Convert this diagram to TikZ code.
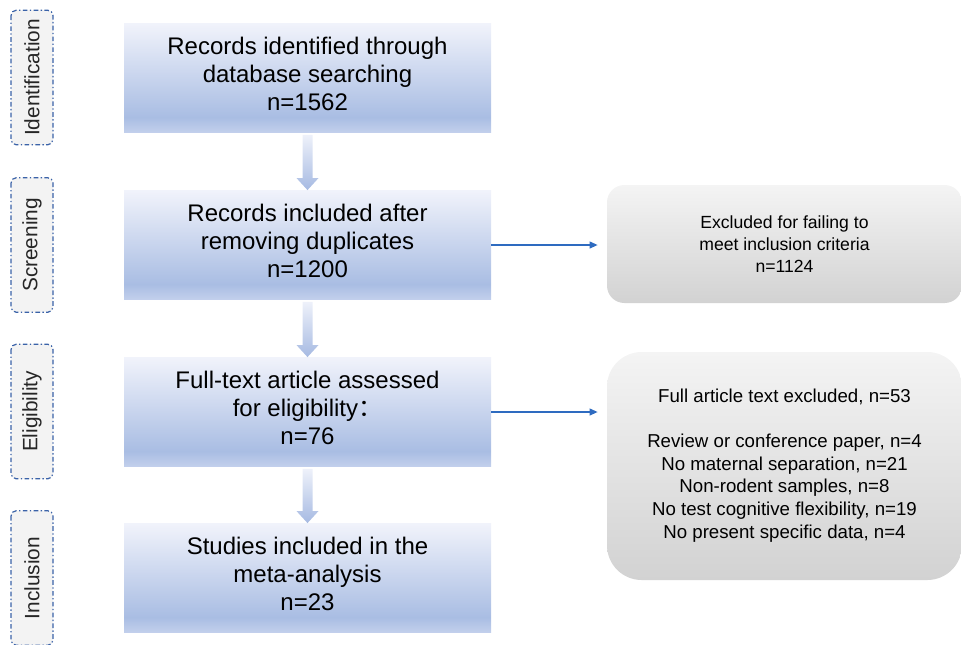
\documentclass[tikz,border=0pt]{standalone}
\usepackage{fontspec}
\setmainfont{Liberation Sans}
\newfontfamily\cjk{Noto Sans CJK SC}
\usetikzlibrary{calc,arrows.meta}
\definecolor{mbB}{HTML}{C3D0EC}
\definecolor{mbM}{HTML}{A9BDE3}
\definecolor{mbT}{HTML}{F1F3FB}
\definecolor{gT}{HTML}{F4F4F4}
\definecolor{gB}{HTML}{D2D2D2}
\definecolor{arT}{HTML}{EEF1FA}
\definecolor{arB}{HTML}{A6BAE2}
\definecolor{lblue}{HTML}{2E6BC0}
\definecolor{dashblue}{HTML}{3A62A8}
\definecolor{lblfill}{HTML}{F3F3F3}
\pgfdeclareverticalshading{mainshade}{100bp}{color(0bp)=(mbB); color(25bp)=(mbB); color(32bp)=(mbM); color(75bp)=(mbT); color(100bp)=(mbT)}
\pgfdeclareverticalshading{greyshade}{100bp}{color(0bp)=(gB); color(25bp)=(gB); color(75bp)=(gT); color(100bp)=(gT)}
\pgfdeclareverticalshading{arrshade}{100bp}{color(0bp)=(arB); color(25bp)=(arB); color(75bp)=(arT); color(100bp)=(arT)}
\tikzset{
  mainbox/.style={shading=mainshade, minimum width=275.25pt, minimum height=82pt,
    align=center, font=\fontsize{18pt}{21pt}\selectfont, inner sep=0pt, text depth=6pt},
  greybox/.style={shading=greyshade, minimum width=266.25pt, align=center, inner sep=0pt},
  sidelbl/.style={draw=dashblue, fill=lblfill, line width=0.9pt,
    dash pattern=on 3.5pt off 1.8pt on 1pt off 1.8pt, rounded corners=4pt,
    rotate=90, minimum width=101pt, minimum height=31.5pt, inner sep=0pt,
    font=\fontsize{15.6pt}{17pt}\selectfont, text=black!85},
  bluearrow/.style={draw=lblue, line width=1.3pt, -{Triangle[length=6pt,width=5pt]}, shorten >=6.75pt},
  fatarrow/.style={shading=arrshade}
}
\begin{document}
\begin{tikzpicture}[x=0.75pt,y=-0.75pt]
\useasboundingbox (0,0) rectangle (961,644);
\clip (0,0) rectangle (961,644);

% side labels
\node[sidelbl] (lid) at (32,77.5) {Identification};
\node[sidelbl] (lsc) at (32,245) {Screening};
\node[sidelbl] (lel) at (32,411.5) {Eligibility};
\node[sidelbl] (lin) at (32,578) {Inclusion};

% main boxes
\node[mainbox] (b1) at (307.5,78) {Records identified through\\database searching\\n=1562};
\node[mainbox] (b2) at (307.5,245) {Records included after\\removing duplicates\\n=1200};
\node[mainbox] (b3) at (307.5,412) {Full-text article assessed\\for eligibility{\cjk ：}\\n=76};
\node[mainbox] (b4) at (307.5,578) {Studies included in the\\meta-analysis\\n=23};

% exclusion boxes
\node[greybox, minimum height=88.5pt, rounded corners=13pt,
  font=\fontsize{13.2pt}{16.5pt}\selectfont] (ex1) at (784.5,244)
  {Excluded for failing to\\meet inclusion criteria\\n=1124};
\node[greybox, minimum height=171pt, rounded corners=26pt, text depth=4pt,
  font=\fontsize{14pt}{17pt}\selectfont] (ex2) at (784.5,466)
  {Full article text excluded, n=53\\[17pt]Review or conference paper, n=4\\No maternal separation, n=21\\Non-rodent samples, n=8\\No test cognitive flexibility, n=19\\No present specific data, n=4};

% fat arrows
\foreach \a/\b in {b1/b2, b2/b3, b3/b4}{
  \path[fatarrow] ($(\a.south)+(-5,2)$) -- ($(\a.south)+(5,2)$) -- ($(\b.north)+(5,-12)$)
    -- ($(\b.north)+(11,-12)$) -- (\b.north) -- ($(\b.north)+(-11,-12)$)
    -- ($(\b.north)+(-5,-12)$) -- cycle;
}

% blue arrows
\draw[bluearrow] (b2.east) -- (ex1.west |- b2.east);
\draw[bluearrow] (b3.east) -- (ex2.west |- b3.east);
\end{tikzpicture}
\end{document}
